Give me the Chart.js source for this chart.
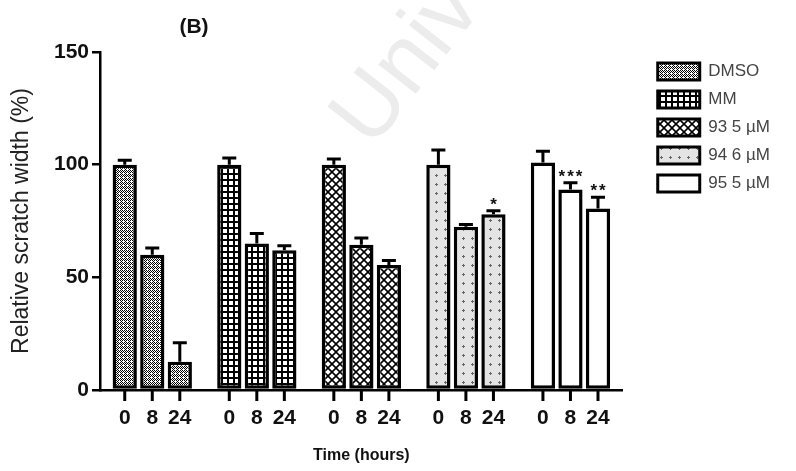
<!DOCTYPE html>
<html>
<head>
<meta charset="utf-8">
<script src="https://cdn.jsdelivr.net/npm/chart.js@4.4.1/dist/chart.umd.min.js"></script>
<style>
  body { margin: 0; background: #fff; }
  #wrap { width: 796px; height: 471px; }
</style>
</head>
<body>
<div id="wrap"><canvas id="myChart"></canvas></div>
<script>
const groups = ['DMSO', 'MM', '93 5 µM', '94 6 µM', '95 5 µM'];
const times = ['0', '8', '24'];
const yTicks = [0, 50, 100, 150];

// relative scratch width (%) for each group, one array per time point
const width0h = [100, 100, 100, 100, 101];
const width8h = [60, 65, 64.5, 72.5, 89];
const width24h = [12.5, 62, 55.5, 78, 80.5];
// upper error bars
const err0h = [2, 3, 2.5, 6.5, 5];
const err8h = [3, 4.5, 3, 1, 3];
const err24h = [8.5, 2, 2, 1.5, 5];
// significance marks
const stars0h = ['', '', '', '', ''];
const stars8h = ['', '', '', '', '***'];
const stars24h = ['', '', '', '*', '**'];

const FONT = '"Liberation Sans", Arial, sans-serif';

// little hatch tiles, one per group
function makePattern(size, draw) {
    const c = document.createElement('canvas');
    c.width = c.height = size;
    const p = c.getContext('2d');
    draw(p, size);
    return p.createPattern(c, 'repeat');
}
const patterns = [
    makePattern(4, (p) => { //DMSO, dense stipple
        p.fillStyle = '#fff'; p.fillRect(0, 0, 4, 4);
        p.fillStyle = '#000';
        [[0,0],[2,0],[1,1],[0,2],[2,2],[3,3],[1,3]].forEach(([x, y]) => p.fillRect(x, y, 1, 1));
    }),
    makePattern(6, (p) => { //MM, small white squares
        p.fillStyle = '#000'; p.fillRect(0, 0, 6, 6);
        p.fillStyle = '#fff'; p.fillRect(1, 1, 4, 4);
    }),
    makePattern(8, (p) => { //93, diamond lattice
        p.fillStyle = '#fff'; p.fillRect(0, 0, 8, 8);
        p.strokeStyle = '#000'; p.lineWidth = 1.6;
        p.beginPath();
        p.moveTo(0, 0); p.lineTo(8, 8);
        p.moveTo(8, 0); p.lineTo(0, 8);
        p.stroke();
    }),
    makePattern(9, (p) => { //94, light grey with sparse dots
        p.fillStyle = '#e4e4e4'; p.fillRect(0, 0, 9, 9);
        p.fillStyle = '#666';
        p.fillRect(4, 3, 1, 3); p.fillRect(3, 4, 3, 1);
    }),
    '#fff' //95
];

const datasets = [
    { label: times[0], data: width0h, errors: err0h, stars: stars0h },
    { label: times[1], data: width8h, errors: err8h, stars: stars8h },
    { label: times[2], data: width24h, errors: err24h, stars: stars24h }
].map((d) => Object.assign(d, {
    backgroundColor: patterns,
    borderColor: '#000',
    borderWidth: 3.5,
    borderSkipped: false,
    categoryPercentage: 0.79,
    barPercentage: 0.88
}));

// error bars, stars and the per-bar time labels
const barExtras = {
    id: 'barExtras',
    afterDatasetsDraw(chart) {
        const ctx = chart.ctx;
        const y = chart.scales.y;
        ctx.save();
        ctx.strokeStyle = '#000';
        ctx.fillStyle = '#111';
        ctx.textAlign = 'center';
        chart.data.datasets.forEach((ds, di) => {
            chart.getDatasetMeta(di).data.forEach((bar, i) => {
                const top = y.getPixelForValue(ds.data[i] + ds.errors[i]);
                ctx.lineWidth = 3;
                ctx.beginPath();
                ctx.moveTo(bar.x, bar.y);
                ctx.lineTo(bar.x, top);
                ctx.moveTo(bar.x - 7, top);
                ctx.lineTo(bar.x + 7, top);
                // tick under the bar
                ctx.moveTo(bar.x, y.bottom);
                ctx.lineTo(bar.x, y.bottom + 11);
                ctx.stroke();
                if (ds.stars[i]) {
                    ctx.font = 'bold 17px ' + FONT;
                    ctx.letterSpacing = '2px';
                    ctx.textBaseline = 'alphabetic';
                    ctx.fillText(ds.stars[i], bar.x + 1, top - 1);
                    ctx.letterSpacing = '0px';
                }
                ctx.font = 'bold 21px ' + FONT;
                ctx.textBaseline = 'middle';
                ctx.fillText(ds.label, bar.x, y.bottom + 28);
            });
        });
        ctx.restore();
    }
};

const decor = {
    id: 'decor',
    beforeDraw(chart) {
        // faint watermark behind everything
        const ctx = chart.ctx;
        ctx.save();
        ctx.translate(372, 150);
        ctx.rotate(-52 * Math.PI / 180);
        ctx.font = '90px ' + FONT;
        ctx.fillStyle = '#ececec';
        ctx.fillText('University', 0, 0);
        ctx.restore();
    },
    afterLayout(chart) {
        // nudge the legend a bit further from the plot
        chart.legend.left += 24;
        chart.legend.right += 24;
    },
    afterDraw(chart) {
        const ctx = chart.ctx;
        ctx.save();
        ctx.font = 'bold 21px ' + FONT;
        ctx.fillStyle = '#111';
        ctx.textAlign = 'center';
        ctx.textBaseline = 'middle';
        ctx.fillText('(B)', 194, 27);
        ctx.restore();
    }
};

let myChart = document.getElementById('myChart').getContext('2d');

let scratchChart = new Chart(myChart, {
    type: 'bar',
    data: {
        labels: groups,
        datasets: datasets
    },
    options: {
        responsive: true,
        maintainAspectRatio: false,
        animation: false,
        layout: { padding: { top: 52, right: 40, left: 0, bottom: 0 } },
        plugins: {
            tooltip: { enabled: false },
            legend: {
                position: 'right',
                align: 'start',
                labels: {
                    boxWidth: 42,
                    boxHeight: 17,
                    padding: 11,
                    color: '#444',
                    font: { family: FONT, size: 17 },
                    generateLabels: () => groups.map((g, i) => ({
                        text: g,
                        fillStyle: patterns[i],
                        strokeStyle: '#000',
                        lineWidth: 3,
                        fontColor: '#444',
                        hidden: false,
                        index: i
                    }))
                }
            }
        },
        scales: {
            x: {
                grid: { display: false },
                border: { color: '#000', width: 2.5 },
                ticks: { display: false },
                title: {
                    display: true,
                    text: 'Time (hours)',
                    color: '#111',
                    font: { family: FONT, size: 16, weight: 'bold' },
                    padding: { bottom: 6 }
                },
                afterFit: (s) => { s.height = 81; }
            },
            y: {
                min: 0,
                max: 150,
                afterBuildTicks: (s) => { s.ticks = yTicks.map((v) => ({ value: v })); },
                grid: { drawOnChartArea: false, tickLength: 8, color: '#000', lineWidth: 2.5 },
                border: { color: '#000', width: 2.5 },
                ticks: {
                    color: '#111',
                    padding: 3,
                    font: { family: FONT, size: 21, weight: 'bold' }
                },
                title: {
                    display: true,
                    text: 'Relative scratch width (%)',
                    color: '#222',
                    font: { family: FONT, size: 23 },
                    padding: { top: 8 }
                },
                afterFit: (s) => { s.width = 100; }
            }
        }
    },
    plugins: [barExtras, decor]
});
</script>
</body>
</html>
